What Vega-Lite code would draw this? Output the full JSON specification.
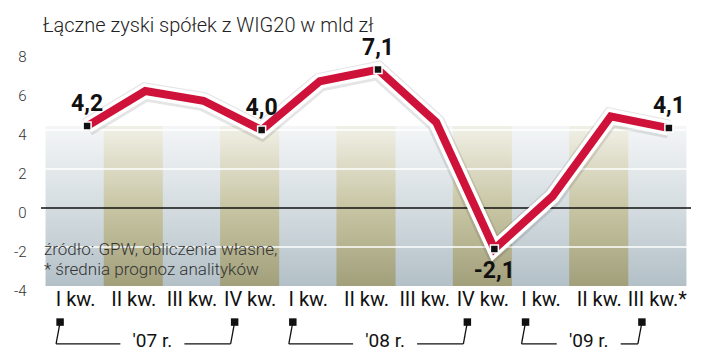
{
  "$schema": "https://vega.github.io/schema/vega-lite/v6.json",
  "width": 650,
  "height": 234,
  "autosize": {"type": "none"},
  "padding": {"left": 41, "top": 52, "right": 29, "bottom": 69},
  "background": "white",
  "title": {
    "text": "Łączne zyski spółek z WIG20 w mld zł",
    "anchor": "start",
    "frame": "group",
    "font": "Roboto",
    "fontWeight": 300,
    "fontSize": 20,
    "color": "#222",
    "offset": -3,
    "dx": 2
  },
  "config": {
    "view": {"stroke": null},
    "axisY": {"labelOverlap": false},
    "locale": {
      "number": {"decimal": ",", "thousands": " ", "grouping": [3], "currency": ["", " zł"], "minus": "-"}
    }
  },
  "data": {
    "values": [
      {"i": 0, "rok": "'07 r.", "zysk": 4.2},
      {"i": 1, "rok": "'07 r.", "zysk": 6.0},
      {"i": 2, "rok": "'07 r.", "zysk": 5.5},
      {"i": 3, "rok": "'07 r.", "zysk": 4.0},
      {"i": 4, "rok": "'08 r.", "zysk": 6.5},
      {"i": 5, "rok": "'08 r.", "zysk": 7.1},
      {"i": 6, "rok": "'08 r.", "zysk": 4.4},
      {"i": 7, "rok": "'08 r.", "zysk": -2.1},
      {"i": 8, "rok": "'09 r.", "zysk": 0.6},
      {"i": 9, "rok": "'09 r.", "zysk": 4.7},
      {"i": 10, "rok": "'09 r.", "zysk": 4.1}
    ]
  },
  "layer": [
    {
      "transform": [{"filter": "datum.i % 2 == 0"}],
      "mark": {
        "type": "bar",
        "width": 59.1,
        "fill": {
          "gradient": "linear", "x1": 0, "y1": 0, "x2": 0, "y2": 1,
          "stops": [
            {"offset": 0, "color": "#f4f6f7"},
            {"offset": 0.5, "color": "#d5dde1"},
            {"offset": 1, "color": "#b3c0c7"}
          ]
        }
      },
      "encoding": {
        "x": {
          "field": "i", "type": "quantitative", "title": null,
          "scale": {"domain": [-0.5, 10.5], "nice": false, "zero": false},
          "axis": {
            "values": [0, 1, 2, 3, 4, 5, 6, 7, 8, 9, 10],
            "tickCount": 20,
            "labelExpr": "['I','II','III','IV'][datum.value % 4] + ' kw.' + (datum.value == 10 ? '*' : '')",
            "labelFont": "Roboto", "labelFontSize": 20, "labelColor": "#111",
            "labelPadding": 3, "labelDx": -10, "labelBaseline": "top", "labelAngle": 0,
            "labelFlush": false, "labelOverlap": false,
            "domain": false, "ticks": false, "grid": false, "title": null
          }
        },
        "y": {
          "datum": 4.2, "type": "quantitative",
          "scale": {"domain": [-4, 8], "nice": false, "zero": false}
        },
        "y2": {"datum": -4}
      }
    },
    {
      "transform": [{"filter": "datum.i % 2 == 1"}],
      "mark": {
        "type": "bar",
        "width": 59.1,
        "fill": {
          "gradient": "linear", "x1": 0, "y1": 0, "x2": 0, "y2": 1,
          "stops": [
            {"offset": 0, "color": "#f1f0e6"},
            {"offset": 0.5, "color": "#c9c6a5"},
            {"offset": 1, "color": "#a29f7b"}
          ]
        }
      },
      "encoding": {
        "x": {"field": "i", "type": "quantitative", "title": null},
        "y": {"datum": 4.2, "type": "quantitative"},
        "y2": {"datum": -4}
      }
    },
    {
      "data": {"values": [{"g": -2}, {"g": 2}, {"g": 4}]},
      "mark": {"type": "rule", "color": "#ffffff", "strokeWidth": 1.5},
      "encoding": {
        "y": {
          "field": "g", "type": "quantitative", "title": null,
          "axis": {
            "values": [-4, -2, 0, 2, 4, 6, 8],
            "tickCount": 20,
            "format": "d",
            "labelFont": "Roboto", "labelFontWeight": 300, "labelFontSize": 15, "labelColor": "#333",
            "labelPadding": 15, "labelOffset": 4, "labelFlush": false, "labelOverlap": false,
            "domain": false, "ticks": false, "grid": false, "title": null
          }
        }
      }
    },
    {
      "data": {"values": [{"g": 0}]},
      "mark": {"type": "rule", "color": "#111111", "strokeWidth": 1.5},
      "encoding": {
        "y": {"field": "g", "type": "quantitative", "title": null}
      }
    },
    {
      "data": {"values": [{"zrodlo": "GPW"}]},
      "mark": {
        "type": "text",
        "text": ["źródło: GPW, obliczenia własne,", "* średnia prognoz analityków"],
        "align": "left", "baseline": "alphabetic", "dx": -2,
        "font": "Roboto", "fontWeight": 300, "fontSize": 17, "color": "#333", "lineHeight": 20
      },
      "encoding": {
        "x": {"datum": -0.5, "type": "quantitative"},
        "y": {"datum": -2.4, "type": "quantitative"}
      }
    },
    {
      "mark": {"type": "line", "color": "#000000", "strokeWidth": 19, "opacity": 0.1, "xOffset": 12, "yOffset": 1},
      "encoding": {
        "x": {"field": "i", "type": "quantitative", "title": null},
        "y": {"field": "zysk", "type": "quantitative", "title": null}
      }
    },
    {
      "mark": {"type": "line", "color": "#ffffff", "strokeWidth": 15, "xOffset": 12},
      "encoding": {
        "x": {"field": "i", "type": "quantitative", "title": null},
        "y": {"field": "zysk", "type": "quantitative", "title": null}
      }
    },
    {
      "mark": {"type": "line", "color": "#cf1239", "strokeWidth": 8, "xOffset": 12},
      "encoding": {
        "x": {"field": "i", "type": "quantitative", "title": null},
        "y": {"field": "zysk", "type": "quantitative", "title": null}
      }
    },
    {
      "transform": [{"filter": {"field": "i", "oneOf": [0, 3, 5, 7, 10]}}],
      "mark": {"type": "point", "shape": "square", "filled": true, "size": 64, "color": "#111111", "opacity": 1, "stroke": "#ffffff", "strokeWidth": 1.5, "xOffset": 12},
      "encoding": {
        "x": {"field": "i", "type": "quantitative", "title": null},
        "y": {"field": "zysk", "type": "quantitative", "title": null}
      }
    },
    {
      "transform": [{"filter": {"field": "i", "oneOf": [0, 3, 5, 7, 10]}}, {"filter": "datum.zysk > 0"}],
      "mark": {"type": "text", "font": "Roboto", "fontWeight": "bold", "fontSize": 23, "color": "#111", "baseline": "middle", "dy": -22, "xOffset": 12},
      "encoding": {
        "x": {"field": "i", "type": "quantitative", "title": null},
        "y": {"field": "zysk", "type": "quantitative", "title": null},
        "text": {"field": "zysk", "type": "quantitative", "format": ".1f"}
      }
    },
    {
      "transform": [{"filter": {"field": "i", "oneOf": [0, 3, 5, 7, 10]}}, {"filter": "datum.zysk < 0"}],
      "mark": {"type": "text", "font": "Roboto", "fontWeight": "bold", "fontSize": 23, "color": "#111", "baseline": "middle", "dy": 22, "xOffset": 12},
      "encoding": {
        "x": {"field": "i", "type": "quantitative", "title": null},
        "y": {"field": "zysk", "type": "quantitative", "title": null},
        "text": {"field": "zysk", "type": "quantitative", "format": ".1f"}
      }
    },
    {
      "transform": [
        {"aggregate": [{"op": "min", "field": "i", "as": "od"}, {"op": "max", "field": "i", "as": "do"}], "groupby": ["rok"]},
        {"fold": ["od", "do"], "as": ["koniec", "pozycja"]}
      ],
      "mark": {"type": "point", "shape": "square", "filled": true, "size": 56, "color": "#111111", "opacity": 1, "xOffset": -15},
      "encoding": {
        "x": {"field": "pozycja", "type": "quantitative", "title": null},
        "y": {"datum": -5.85, "type": "quantitative"}
      }
    },
    {
      "transform": [
        {"aggregate": [{"op": "min", "field": "i", "as": "od"}, {"op": "max", "field": "i", "as": "do"}], "groupby": ["rok"]},
        {"fold": ["od", "do"], "as": ["koniec", "pozycja"]}
      ],
      "mark": {"type": "rule", "color": "#111111", "strokeWidth": 1.3, "xOffset": -15, "x2Offset": -19},
      "encoding": {
        "x": {"field": "pozycja", "type": "quantitative", "title": null},
        "x2": {"field": "pozycja"},
        "y": {"datum": -5.85, "type": "quantitative"},
        "y2": {"datum": -6.97}
      }
    },
    {
      "transform": [
        {"aggregate": [{"op": "min", "field": "i", "as": "od"}, {"op": "mean", "field": "i", "as": "sr"}], "groupby": ["rok"]}
      ],
      "mark": {"type": "rule", "color": "#111111", "strokeWidth": 1.3, "xOffset": -19, "x2Offset": -42},
      "encoding": {
        "x": {"field": "od", "type": "quantitative", "title": null},
        "x2": {"field": "sr"},
        "y": {"datum": -6.97, "type": "quantitative"}
      }
    },
    {
      "transform": [
        {"aggregate": [{"op": "max", "field": "i", "as": "do"}, {"op": "mean", "field": "i", "as": "sr"}], "groupby": ["rok"]}
      ],
      "mark": {"type": "rule", "color": "#111111", "strokeWidth": 1.3, "xOffset": 22, "x2Offset": -19},
      "encoding": {
        "x": {"field": "sr", "type": "quantitative", "title": null},
        "x2": {"field": "do"},
        "y": {"datum": -6.97, "type": "quantitative"}
      }
    },
    {
      "transform": [
        {"aggregate": [{"op": "mean", "field": "i", "as": "sr"}], "groupby": ["rok"]}
      ],
      "mark": {"type": "text", "font": "Roboto", "fontSize": 19, "color": "#111", "baseline": "middle", "xOffset": -10},
      "encoding": {
        "x": {"field": "sr", "type": "quantitative", "title": null},
        "y": {"datum": -6.8, "type": "quantitative"},
        "text": {"field": "rok", "type": "nominal"}
      }
    }
  ]
}
